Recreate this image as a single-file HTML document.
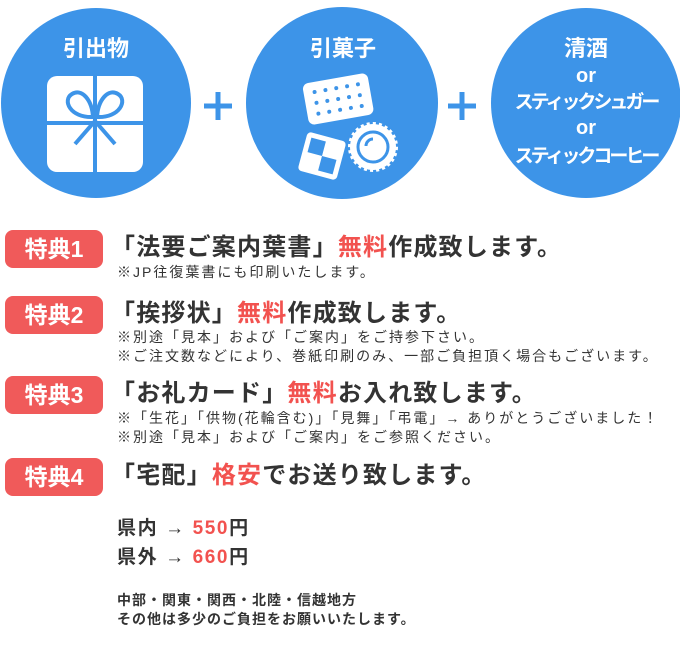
<!DOCTYPE html>
<html><head><meta charset="utf-8"><style>
body{margin:0;width:680px;height:650px;background:#fff;position:relative;overflow:hidden;font-family:"Liberation Sans","Noto Sans CJK JP",sans-serif;color:#333}
.a{position:absolute;white-space:nowrap}
.badge{position:absolute;left:5px;width:98px;height:38px;background:#f05a5a;border-radius:8px;color:#fff;font-weight:bold;font-size:23px;line-height:38px;text-align:center}
.main{position:absolute;left:111px;font-weight:bold;font-size:24px;letter-spacing:1.2px;white-space:nowrap;line-height:28px}
.r{color:#f2524f}
.sub{position:absolute;left:117px;font-size:14px;letter-spacing:2px;white-space:nowrap;line-height:19px}
</style></head><body>
<svg class="a" style="left:0;top:0" width="680" height="210">
<circle cx="96" cy="103" r="95" fill="#3d94e8"/>
<circle cx="342" cy="103" r="96" fill="#3d94e8"/>
<circle cx="586" cy="103" r="95" fill="#3d94e8"/>
<g stroke="#3d94e8" stroke-width="5"><line x1="204" y1="106" x2="232" y2="106"/><line x1="218" y1="92" x2="218" y2="120"/>
<line x1="448" y1="106" x2="476" y2="106"/><line x1="462" y1="92" x2="462" y2="120"/></g>
<rect x="47" y="76" width="96" height="96" rx="10" fill="#fff"/>
<g stroke="#3d94e8" stroke-width="4" fill="none"><line x1="95" y1="76" x2="95" y2="172"/><line x1="47" y1="123" x2="143" y2="123"/>
<path d="M93 117 C70 118 62 100 72 94 C82 88 92 100 93 117 Z"/><path d="M97 117 C120 118 128 100 118 94 C108 88 98 100 97 117 Z"/>
<line x1="95" y1="121" x2="75" y2="144"/><line x1="95" y1="121" x2="115" y2="144"/></g>
<g transform="rotate(-10 338 98)"><rect x="305" y="78" width="66" height="42" rx="6" fill="#fff"/>
<g fill="#3d94e8"><circle cx="316" cy="88" r="2"/><circle cx="327" cy="88" r="2"/><circle cx="338" cy="88" r="2"/><circle cx="349" cy="88" r="2"/><circle cx="360" cy="88" r="2"/>
<circle cx="316" cy="99" r="2"/><circle cx="327" cy="99" r="2"/><circle cx="338" cy="99" r="2"/><circle cx="349" cy="99" r="2"/><circle cx="360" cy="99" r="2"/>
<circle cx="316" cy="110" r="2"/><circle cx="327" cy="110" r="2"/><circle cx="338" cy="110" r="2"/><circle cx="349" cy="110" r="2"/><circle cx="360" cy="110" r="2"/></g></g>
<g transform="rotate(15 322 156)"><rect x="302" y="136" width="40" height="40" rx="4" fill="#fff"/><rect x="307" y="141" width="15" height="15" fill="#3d94e8"/><rect x="322" y="156" width="15" height="15" fill="#3d94e8"/></g>
<circle cx="373" cy="147" r="23" fill="#fff" stroke="#fff" stroke-width="4" stroke-dasharray="3 3"/>
<circle cx="373" cy="147" r="15" fill="none" stroke="#3d94e8" stroke-width="3"/>
<path d="M366 146 a7 7 0 0 1 7 -7" stroke="#3d94e8" stroke-width="3" fill="none"/>
<g fill="#fff" font-weight="bold" font-family="Liberation Sans,Noto Sans CJK JP,sans-serif" text-anchor="middle">
<text x="96" y="56" font-size="22">引出物</text><text x="343" y="56" font-size="22">引菓子</text>
<text x="586" y="56" font-size="22">清酒</text><text x="586" y="82" font-size="20">or</text>
<text x="586" y="108" font-size="19" letter-spacing="-3">スティックシュガー</text><text x="586" y="134" font-size="20">or</text>
<text x="586" y="162" font-size="19" letter-spacing="-3">スティックコーヒー</text></g>
</svg>
<div class="badge" style="top:230px">特典1</div>
<div class="main" style="top:234px">「法要ご案内葉書」<span class="r">無料</span>作成致します。</div>
<div class="sub" style="top:263px">※JP往復葉書にも印刷いたします。</div>
<div class="badge" style="top:296px">特典2</div>
<div class="main" style="top:300px">「挨拶状」<span class="r">無料</span>作成致します。</div>
<div class="sub" style="top:328px">※別途「見本」および「ご案内」をご持参下さい。</div>
<div class="sub" style="top:347px">※ご注文数などにより、巻紙印刷のみ、一部ご負担頂く場合もございます。</div>
<div class="badge" style="top:376px">特典3</div>
<div class="main" style="top:380px">「お礼カード」<span class="r">無料</span>お入れ致します。</div>
<div class="sub" style="top:409px;letter-spacing:2px">※「生花」「供物(花輪含む)」「見舞」「弔電」→ ありがとうございました！</div>
<div class="sub" style="top:428px">※別途「見本」および「ご案内」をご参照ください。</div>
<div class="badge" style="top:458px">特典4</div>
<div class="main" style="top:462px">「宅配」<span class="r">格安</span>でお送り致します。</div>
<div class="sub" style="top:517px;font-size:19px;font-weight:bold;letter-spacing:1.6px;line-height:24px">県内 → <span class="r">550</span>円</div>
<div class="sub" style="top:546px;font-size:19px;font-weight:bold;letter-spacing:1.6px;line-height:24px">県外 → <span class="r">660</span>円</div>
<div class="sub" style="top:591px;font-weight:bold;font-size:14px;letter-spacing:1px">中部・関東・関西・北陸・信越地方</div>
<div class="sub" style="top:610px;font-weight:bold;font-size:14px;letter-spacing:1px">その他は多少のご負担をお願いいたします。</div>
</body></html>
